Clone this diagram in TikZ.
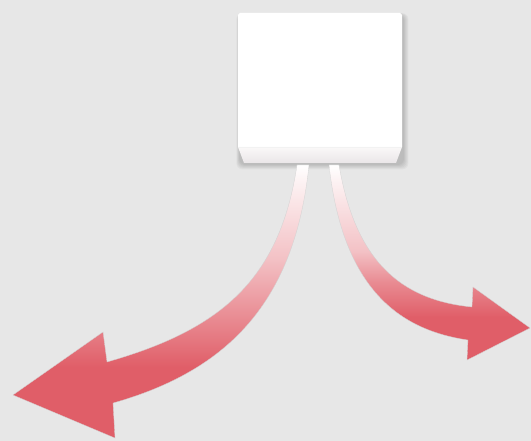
\documentclass[tikz,border=0pt]{standalone}
\definecolor{bg}{RGB}{231,231,231}
\definecolor{arrowred}{RGB}{224,94,104}
\colorlet{redA}{arrowred!72!white}
\colorlet{redB}{arrowred!38!white}
\colorlet{redC}{arrowred!8!white}
\definecolor{stripTop}{RGB}{250,248,248}
\definecolor{stripBot}{RGB}{234,230,232}
\pgfdeclareverticalshading{leftfade}{100bp}{color(0bp)=(arrowred); color(38bp)=(arrowred); color(47bp)=(redA); color(58bp)=(redB); color(72bp)=(redC); color(75bp)=(white); color(100bp)=(white)}
\pgfdeclareverticalshading{rightfade}{100bp}{color(0bp)=(arrowred); color(36bp)=(arrowred); color(45bp)=(redA); color(53bp)=(redB); color(71bp)=(redC); color(75bp)=(white); color(100bp)=(white)}
\tikzset{
  arrowshape/.style={draw=gray!35, line width=0.3pt},
  shadowlayer/.style={fill=black, opacity=0.03, rounded corners=6pt},
}
\begin{document}
\begin{tikzpicture}[x=1pt,y=-1pt]
\fill[bg] (0,0) rectangle (531,441);
\useasboundingbox (0,0) rectangle (531,441);
% soft shadow of the box
\foreach \d in {1,2,...,6}{
  \fill[shadowlayer] (238+2-\d*0.6,13+2-\d*0.3) rectangle (402+1+\d*0.9,163+1+\d*0.9);
}
% box
\coordinate (boxTL) at (238,13);
\coordinate (boxBR) at (402,147);
\fill[white] (240,13) -- (400,13) -- (402,15) -- (402,147) -- (238,147) -- (238,15) -- cycle;
\shade[top color=stripTop, bottom color=stripBot] (238,147) -- (402,147) -- (396,163) -- (244,163) -- cycle;
\draw[white!90!gray, line width=0.4pt] (238,147) -- (402,147);
% left arrow
\shade[shading=leftfade, arrowshape]
  (297,165) .. controls (280,280) and (220,330) .. (107,362)
  -- (103,332) -- (13,395) -- (115,438) -- (113,403)
  .. controls (230,370) and (295,300) .. (309,165) -- cycle;
% right arrow
\shade[shading=rightfade, arrowshape]
  (329,165) .. controls (343,290) and (400,330) .. (468,340)
  -- (467,360) -- (530,328) -- (473,287) -- (472,307)
  .. controls (400,300) and (355,260) .. (339,165) -- cycle;
\end{tikzpicture}
\end{document}
